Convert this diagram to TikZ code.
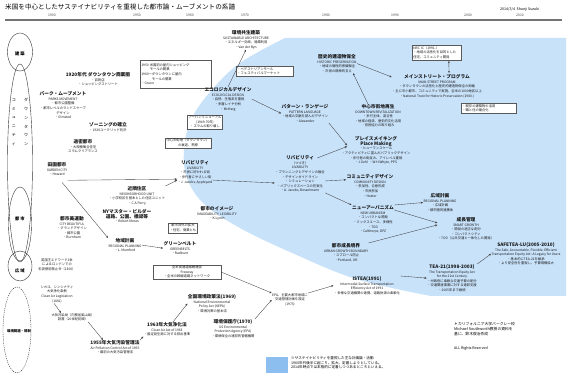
\documentclass[tikz,border=0pt]{standalone}
\usepackage{fontspec}
\setmainfont{Noto Sans CJK JP}
\usetikzlibrary{arrows.meta,calc}
\definecolor{blu}{RGB}{200,226,250}
\definecolor{legblu}{RGB}{140,190,240}
\newcommand{\hd}[1]{{\fontsize{4.7}{5}\selectfont\bfseries #1}}
\begin{document}
\begin{tikzpicture}[x=1pt,y=-1pt,
 tx/.style={align=center, inner sep=0.3pt, font=\fontsize{3.3}{4.6}\selectfont, text=black!90},
 bx/.style={draw=black!65, line width=0.3pt, fill=white, inner sep=1.2pt, font=\fontsize{3.3}{4.6}\selectfont, text=black!90},
 ar/.style={-{Stealth[length=2.4pt,width=2pt]}, line width=0.35pt, draw=black!75},
 yr/.style={font=\fontsize{3.4}{4}\selectfont, text=black!75, inner sep=0.5pt},
 ell/.style={draw=black!80, line width=0.4pt},
 lbl/.style={font=\fontsize{4.3}{5}\selectfont\bfseries, inner sep=0.3pt}]
\useasboundingbox (0,0) rectangle (574,374);
\fill[white] (0,0) rectangle (574,374);
% blue region
\fill[blu] (566,38) -- (566,296) -- (431,296) -- plot[smooth, tension=0.6] coordinates {(431,296) (356,279) (290,252) (240,228) (204,204) (187,178) (184,150) (191,120) (210,92) (240,63) (285,38)} -- cycle;
% legend
\fill[legblu] (266,357) rectangle (288,373);
% title, date, timeline
\node[anchor=west, font=\fontsize{6.6}{7}\selectfont, inner sep=0] (n_title) at (5,7) {米国を中心としたサステイナビリティを重視した都市論・ムーブメントの系譜};
\node[anchor=west, font=\fontsize{3.6}{4}\selectfont, inner sep=0] (n_date) at (500,10) {2014/3/4\ \ Shunji\ Suzuki};
\coordinate (tl0) at (5,20); \coordinate (tl1) at (562,20);
\draw[line width=1.1pt, draw=black!55] (tl0) -- (tl1);
\foreach \yy/\xx in {1900/52,1950/137,1960/190,1970/245,1980/326,1990/395,2000/468,2010/520}
  \node[yr] (y\yy) at (\xx,15) {\yy};
% left figure
\draw[ell] (20,52) ellipse [x radius=12.5, y radius=19];
\draw[ell] (20,163) ellipse [x radius=12.5, y radius=99];
\draw[ell] (20,224) ellipse [x radius=11.5, y radius=37];
\draw[ell] (20,266) ellipse [x radius=12, y radius=15];
\draw[ell, dash pattern=on 1.2pt off 1pt] (17,330) ellipse [x radius=14, y radius=43];
\node[lbl] (l_ken) at (20,54) {建\ 築};
\node[font=\fontsize{4}{8.8}\selectfont, align=center, inner sep=0] (l_com) at (14,122) {コ\\ミ\\ュ\\ニ\\テ\\ィ};
\node[font=\fontsize{4}{8.8}\selectfont, align=center, inner sep=0] (l_dt) at (26,122) {ダ\\ウ\\ン\\タ\\ウ\\ン};
\node[lbl] (l_toshi) at (20,219) {都\ 市};
\node[lbl] (l_koiki) at (20,271) {広\ 域};
\node[font=\fontsize{3.4}{4}\selectfont\bfseries, inner sep=0] (l_env) at (19,331) {環境問題・規制};
% nodes
\node[tx, anchor=north] (n_dt20) at (98,72) {\hd{1920年代\ ダウンタウン商業圏}\\・百貨店\\・ショッピングストリート};
\node[bx, anchor=north west, text width=69pt, minimum height=28pt, align=left] (n_box50) at (140,60) {1950\ 米国初の屋内ショッピング\\\phantom{1950\ }モールの開業\\1960〜ダウンタウンに屋内\\\phantom{1960〜}モールの開業\\・Gruen};
\node[tx, anchor=north] (n_sus) at (246,30) {\hd{環境共生建築}\\SUSTAINABLE ARCHITECTURE\\・エネルギー効率、循環利用\\・Van der Ryn};
\node[bx, anchor=north west, text width=55pt, align=left] (n_ped) at (236,66) {・ペデストリアンモール\\・フェスティバルマーケット};
\node[tx, anchor=north] (n_eco) at (228,87) {\hd{エコロジカルデザイン}\\ECOLOGICAL DESIGN\\・自然、生態系を重視\\・多層レイヤ分析\\・McHarg};
\node[bx, anchor=center, align=center] (n_urb) at (205,122) {アーバンリニューアル\\(1949-70年)\\・スラムの取り壊し};
\node[bx, anchor=center, align=center] (n_decl) at (188,143) {中心市街地（ダウンタウン）\\の衰退、荒廃};
\node[tx, anchor=north] (n_hist) at (337,54) {\hd{歴史的建造物保全}\\HISTORIC PRESERVATION\\・地域の個性的景観保全\\・市民の精神的支え};
\node[bx, anchor=north west, text width=47pt, align=left] (n_nrc) at (412,45) {NRC IC（1991-）\\・地域の活性化を目的とした\\住宅、コミュニティ開発};
\node[tx, anchor=north] (n_main) at (437,74) {\hd{メインストリート・プログラム}\\MAIN STREET PROGRAM\\・ダウンタウンの活性化と歴史的建造物保全の両輪\\・主に中小都市、コミュニティで実施、全米の1000地区以上\\・National Trust for Historic Preservation (1980-)};
\node[bx, anchor=north west, text width=53pt, align=left] (n_reuse) at (461,103) {・既存の建築物の活用\\・職と住の複合化};
\node[tx, anchor=north] (n_pat) at (305,104) {\hd{パターン・ランゲージ}\\PATTERN LANGUAGE\\・地域の文脈を読んだデザイン\\・Alexander};
\node[tx, anchor=north] (n_dtrev) at (378,104) {\hd{中心市街地再生}\\DOWNTOWN REVITALIZATION\\・歩行主体、混合性\\・地域の経済、歴史的文化活用\\・官民協力の取り組み};
\node[tx, anchor=north] (n_place) at (376,136) {\hd{プレイスメイキング}\\\hd{Place Making}\\・ヒューマンスケール\\・アクティビティに富んだパブリックデザイン\\・歩行者の街並み、アイレベル重視\\・J.Gehl\ \ ・W.H.Whyte, PPS};
\node[tx, anchor=north] (n_liv1) at (195,160) {\hd{リバビリティ}\\LIVABILITY\\・市民に好かれる街\\・歩行者にやさしい街\\・J. Jacobs, Appleyard};
\node[tx, anchor=north] (n_liv2) at (300,155) {\hd{リバビリティ}\\（つづき）\\LIVABILITY\\・プランニングとデザインの融合\\・デザインガイドライン\\・シミュレーション\\・パブリックスペースの充実化\\・A. Jacobs, Bosselmann};
\node[tx, anchor=north] (n_comm) at (370,174) {\hd{コミュニティデザイン}\\COMMUNITY DESIGN\\・参加性、合意形成\\・市民参加\\・Hester};
\node[tx, anchor=north] (n_nu) at (373,205) {\hd{ニューアーバニズム}\\NEW URBANISM\\・コンパクトな開発\\・ミックスユース、多様性\\・TOD\\・Calthorpe, DPZ};
\node[tx, anchor=north] (n_reg2) at (440,193) {\hd{広域計画}\\REGIONAL PLANNING\\・広域計画\\・都市圏的連携体};
\node[tx, anchor=north] (n_sg) at (466,217) {\hd{成長管理}\\SMART GROWTH\\・開発の適正な配分\\・コンパクトシティ\\・TOD（公共交通と一体化した開発）};
\node[tx, anchor=north] (n_ugb) at (346,243) {\hd{都市成長境界}\\URBAN GROWTH BOUNDARY\\・スプロール防止\\・Portland, OR};
\node[tx, anchor=north] (n_istea) at (367,276) {\hd{ISTEA(1991)}\\Intermodal Surface Transportation\\Efficiency Act of 1991\\・多様な交通機関の連携、道路財源の柔軟化};
\node[tx, anchor=north] (n_tea) at (452,264) {\hd{TEA-21(1998-2003)}\\The Transportation Equity Act\\for the 21st Century\\・州政府に柔軟な交通予算の配分\\・交通関連事業に対する連邦支援\\・2005年まで継続};
\node[tx, anchor=north] (n_safe) at (526,242) {\hd{SAFETEA-LU(2005-2010)}\\The Safe, Accountable, Flexible, Efficient\\Transportation Equity Act: A Legacy for Users\\・基本的にTEA-21を継承\\・より安全性を重視し、予算規模拡大};
\node[tx, anchor=north] (n_epa73) at (290,293) {EPA、主要大都市地域に\\交通管理計画を設定\\(1973)};
\node[bx, anchor=center, align=center, minimum width=68pt] (n_free) at (187,272) {全米高速道路網建設\\Freeway\\・全米の幹線道路ネットワーク};
\node[tx, anchor=north] (n_nepa) at (212,294) {\hd{全国環境政策法(1969)}\\National Environmental\\Policy Act (NEPA)\\・環境対策の基本法};
\node[tx, anchor=north] (n_epa) at (233,319) {\hd{環境保護庁(1970)}\\US Environmental\\Protection Agency (EPA)\\・環境保全の連邦的管轄機関};
\node[tx, anchor=north] (n_ca63) at (167,322) {\hd{1963年大気浄化法}\\Clean Air Act of 1963\\・固定発生源に対する排出基準};
\node[tx, anchor=north] (n_apc55) at (115,340) {\hd{1955年大気汚染管理法}\\Air Pollution Control Act of 1955\\・最初の大気汚染管理法};
\node[tx, anchor=north] (n_bur) at (73,313) {大気汚染局（内務省鉱山局）\\設置（20世紀初頭）};
\node[tx, anchor=north] (n_cal) at (57,285) {シカゴ、シンシナティ\\大気浄化条例\\Clean Air Legislation\\(1881)};
\node[tx, anchor=north] (n_edw) at (57,258) {英国王エドワード1世\\によるロンドンでの\\石炭使用禁止令（1306）};
\node[tx, anchor=north] (n_cb) at (72,216) {\hd{都市美運動}\\CITY BEAUTIFUL\\・グランドデザイン\\・都市公園\\・Burnham};
\node[tx, anchor=north] (n_reg1) at (125,238) {\hd{地域計画}\\REGIONAL PLANNING\\・L. Mumford};
\node[tx, anchor=north] (n_gb) at (180,241) {\hd{グリーンベルト}\\GREENBELTS\\・Radburn};
\node[tx, anchor=north] (n_gc) at (57,162) {\hd{田園都市}\\GARDEN CITY\\・Howard};
\node[tx, anchor=north] (n_nbu) at (137,186) {\hd{近隣住区}\\NEIGHBORHOOD UNIT\\・小学校区を基本とした住区ユニット\\・C.A.Perry};
\node[tx, anchor=north] (n_nym) at (127,209) {\hd{NYマスター・ビルダー}\\\hd{道路、公園、橋梁等}\\・Robert Moses};
\node[tx, anchor=north] (n_img) at (217,206) {\hd{都市のイメージ}\\IMAGEABILITY, LEGIBILITY\\・K.Lynch};
\node[bx, anchor=center, align=center] (n_sub) at (183,228) {都市郊外の拡大\\・住宅、商業とも};
\node[tx, anchor=north] (n_park) at (63,91) {\hd{パーク・ムーブメント}\\PARKS MOVEMENT\\・都市公園整備\\・都市レベルのランドスケープ\\デザイン\\・Olmsted};
\node[tx, anchor=north] (n_zon) at (108,122) {\hd{ゾーニングの確立}\\・1926ユークリッド判決};
\node[tx, anchor=north] (n_slum) at (83,139) {\hd{過密都市}\\・大規模集合住宅\\スラムクリアランス};
\node[anchor=north west, font=\fontsize{3.6}{4.8}\selectfont, align=left, inner sep=0] (n_leg) at (291,356) {※サステイナビリティを重視した主な計画論・活動\\1960年代後半に起こり、拡大、定着しようとしている。\\2014年時点では本格的に定着しつつあるところといえる。};
\node[anchor=north west, font=\fontsize{3.8}{5}\selectfont, align=left, inner sep=0] (n_cred) at (454,322) {＊カリフォルニア大学バークレー校\\Michael Southworth教授の資料を\\基に、鈴木俊治作成};
\node[anchor=north west, font=\fontsize{3.6}{4}\selectfont, inner sep=0] (n_rights) at (454,346) {ALL Rights Reserved};
% arrows
\draw[ar] (n_eco.north) -- (n_sus.south);
\draw[ar] (n_eco.east) -- (n_pat.west);
\draw[ar] (n_pat.south east) -- ($(n_place.west)+(6,-5)$);
\draw[ar] (n_hist.east) -- ($(n_main.north west)+(0,3)$);
\draw[ar] ($(n_dtrev.north)+(-10,0)$) -- ($(n_hist.south)+(16,0)$);
\draw[{Stealth[length=2pt,width=1.8pt]}-{Stealth[length=2pt,width=1.8pt]}, line width=0.35pt, draw=black!75] ($(n_nrc.south)+(12,1)$) -- ($(n_main.north)+(12,-1)$);
\draw[ar] ($(n_liv1.east)+(0,8)$) -- ($(n_liv2.west)+(0,9)$);
\draw[ar] ($(n_gc.south east)+(0,4)$) -- ($(n_liv1.west)+(0,7)$);
\draw[ar] (n_nbu.north east) -- ($(n_liv1.west)+(0,8)$);
\draw[ar, shorten <=8pt] (n_gc.south) -- (n_reg1.north west);
\draw[ar] (n_reg1.east) -- (n_gb.west);
\draw[ar] (n_free.east) -- (n_epa73.north west);
\draw[ar] (n_epa.north east) -- (n_epa73.west);
\draw[ar] ($(n_ca63.north)+(6,0)$) -- (n_nepa.west);
\draw[ar] (n_apc55.north east) -- (n_ca63.south west);
\draw[ar] ($(n_bur.south)+(15,0)$) -- ($(n_apc55.north)+(-12,0)$);
\draw[ar] ($(n_cal.south)+(-3,0)$) -- ($(n_bur.north)+(-12,0)$);
\draw[ar] ($(n_liv2.north east)+(-8,3)$) -- ($(n_place.west)+(6,-4)$);
\draw[ar] ($(n_liv2.east)+(0,7)$) -- ($(n_comm.west)+(0,-6)$);
\draw[ar] (n_liv2.south east) -- (n_nu.north west);
\draw[ar] (n_nu.north east) -- (n_reg2.west);
\draw[ar] ($(n_nu.north east)+(0,5)$) -- ($(n_sg.west)+(0,-6)$);
\draw[ar] (n_ugb.north east) -- ($(n_sg.west)+(0,-4)$);
\draw[ar] (n_epa73.north east) -- (n_istea.west);
\draw[ar] (n_istea.north east) -- (n_tea.west);
\draw[ar] (n_tea.north east) -- (n_safe.west);
\end{tikzpicture}
\end{document}
